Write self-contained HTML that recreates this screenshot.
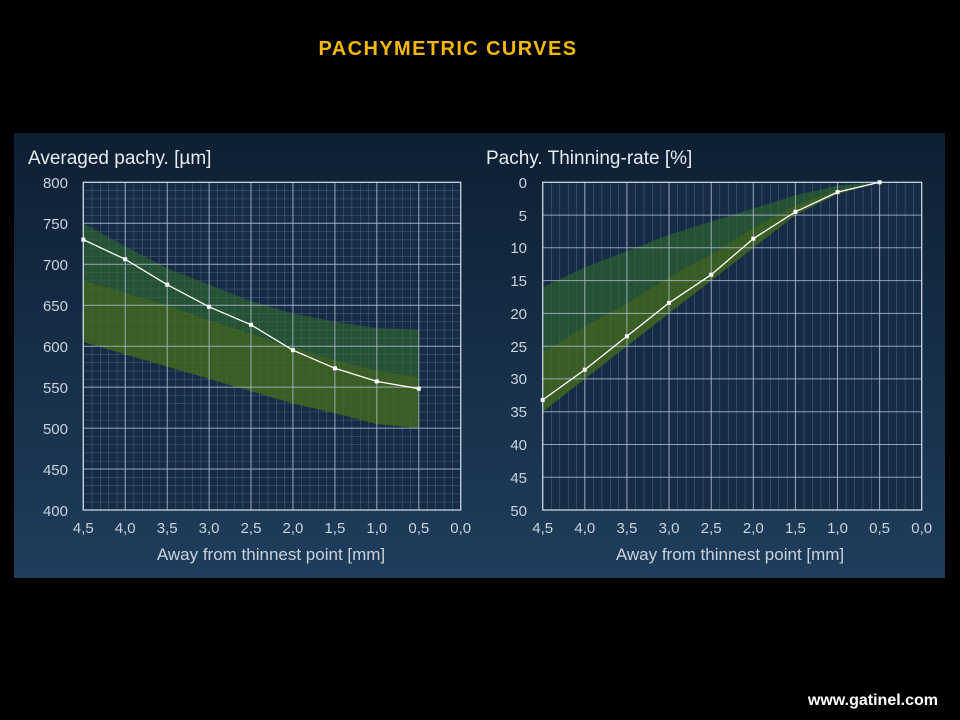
<!DOCTYPE html>
<html><head><meta charset="utf-8"><style>
html,body{margin:0;padding:0;background:#000;width:960px;height:720px;overflow:hidden}
</style></head><body>
<svg width="960" height="720" viewBox="0 0 960 720" xmlns="http://www.w3.org/2000/svg" font-family="Liberation Sans, sans-serif">
<defs>
<linearGradient id="bg" x1="0" y1="0" x2="0" y2="1">
<stop offset="0" stop-color="#0e1f33"/><stop offset="1" stop-color="#1f3d5c"/>
</linearGradient>
<pattern id="gl" x="83.3" y="182.3" width="8.386" height="8.193" patternUnits="userSpaceOnUse">
<path d="M0 0V8.193M0 0H8.386" stroke="#5d7593" stroke-width="0.8" fill="none"/>
</pattern>
<pattern id="gr" x="542.7" y="182.3" width="8.422" height="400" patternUnits="userSpaceOnUse">
<path d="M0 0V400" stroke="#5d7593" stroke-width="0.8" fill="none"/>
</pattern>
</defs>
<rect width="960" height="720" fill="#000"/>
<text x="448" y="55" text-anchor="middle" font-size="20" letter-spacing="1.4" font-weight="bold" fill="#f5b800">PACHYMETRIC CURVES</text>
<rect x="14" y="133" width="931" height="445" fill="url(#bg)"/>

<!-- LEFT -->
<text x="28" y="164" font-size="19" fill="#e6ebf0">Averaged pachy. [µm]</text>
<rect x="83.3" y="182.3" width="377.4" height="327.7" fill="#172b47"/>
<rect x="83.3" y="182.3" width="377.4" height="327.7" fill="url(#gl)"/>
<path d="M83.3 223.2L125.2 246.2L167.2 268.3L209.1 284.7L251 301.1L292.9 313.4L334.9 321.6L376.8 328.1L418.8 329.8L418.8 428.1L376.8 424L334.9 413.3L292.9 403.5L251 391.2L209.1 378.9L167.2 366.6L125.2 354.3L83.3 342Z" fill="#2f6a2a" fill-opacity="0.6"/>
<path d="M83.3 280.6L125.2 292.9L167.2 305.2L209.1 319.9L251 333.9L292.9 347.8L334.9 360.1L376.8 370.7L418.8 377.3L418.8 428.1L376.8 424L334.9 413.3L292.9 403.5L251 391.2L209.1 378.9L167.2 366.6L125.2 354.3L83.3 342Z" fill="#4d6a14" fill-opacity="0.5"/>
<g stroke="#a9b7c8" stroke-width="1" stroke-opacity="0.85">
<path d="M83.3 182.3V510M125.2 182.3V510M167.2 182.3V510M209.1 182.3V510M251 182.3V510M292.9 182.3V510M334.9 182.3V510M376.8 182.3V510M418.8 182.3V510"/>
<path d="M83.3 223.3H460.7M83.3 264.2H460.7M83.3 305.2H460.7M83.3 346.2H460.7M83.3 387.1H460.7M83.3 428.1H460.7M83.3 469H460.7"/>
</g>
<rect x="83.3" y="182.3" width="377.4" height="327.7" fill="none" stroke="#c9d3de" stroke-width="1.3"/>
<polyline points="83.3,239.6 125.2,259.3 167.2,284.7 209.1,306.8 251,324.8 292.9,350.2 334.9,368.3 376.8,381.4 418.8,388.7" fill="none" stroke="#fff" stroke-width="1.3"/>
<g fill="#fff"><rect x="81.3" y="237.6" width="4" height="4"/><rect x="123.2" y="257.3" width="4" height="4"/><rect x="165.2" y="282.7" width="4" height="4"/><rect x="207.1" y="304.8" width="4" height="4"/><rect x="249" y="322.8" width="4" height="4"/><rect x="290.9" y="348.2" width="4" height="4"/><rect x="332.9" y="366.3" width="4" height="4"/><rect x="374.8" y="379.4" width="4" height="4"/><rect x="416.8" y="386.7" width="4" height="4"/></g>
<g font-size="15" fill="#c9d3de" text-anchor="end">
<text x="68" y="188">800</text><text x="68" y="229">750</text><text x="68" y="270">700</text><text x="68" y="311">650</text><text x="68" y="352">600</text><text x="68" y="393">550</text><text x="68" y="434">500</text><text x="68" y="475">450</text><text x="68" y="516">400</text>
</g>
<g font-size="15" fill="#c9d3de" text-anchor="middle">
<text x="83.3" y="533">4,5</text><text x="125.2" y="533">4,0</text><text x="167.2" y="533">3,5</text><text x="209.1" y="533">3,0</text><text x="251" y="533">2,5</text><text x="292.9" y="533">2,0</text><text x="334.9" y="533">1,5</text><text x="376.8" y="533">1,0</text><text x="418.8" y="533">0,5</text><text x="460.7" y="533">0,0</text>
<text x="271" y="560" font-size="17">Away from thinnest point [mm]</text>
</g>

<!-- RIGHT -->
<text x="486" y="164" font-size="19" fill="#e6ebf0">Pachy. Thinning-rate [%]</text>
<rect x="542.7" y="182.3" width="379" height="327.7" fill="#172b47"/>
<rect x="542.7" y="182.3" width="379" height="327.7" fill="url(#gr)"/>
<path d="M542.7 287.2L584.8 267.5L626.9 251.1L669 234.7L711.2 221.6L753.3 208.5L795.4 195.4L837.5 185.6L879.6 182.3L837.5 194.1L795.4 215.1L753.3 247.8L711.2 280.6L669 313.4L626.9 346.2L584.8 378.9L542.7 411.7Z" fill="#2f6a2a" fill-opacity="0.6"/>
<path d="M542.7 352.7L584.8 326.5L626.9 303.6L669 277.3L711.2 254.4L753.3 228.2L795.4 205.2L837.5 190.2L879.6 182.3L837.5 194.1L795.4 215.1L753.3 247.8L711.2 280.6L669 313.4L626.9 346.2L584.8 378.9L542.7 411.7Z" fill="#4d6a14" fill-opacity="0.5"/>
<g stroke="#a9b7c8" stroke-width="1" stroke-opacity="0.85">
<path d="M584.8 182.3V510M626.9 182.3V510M669 182.3V510M711.2 182.3V510M753.3 182.3V510M795.4 182.3V510M837.5 182.3V510M879.6 182.3V510"/>
<path d="M542.7 215.1H921.7M542.7 247.8H921.7M542.7 280.6H921.7M542.7 313.4H921.7M542.7 346.2H921.7M542.7 378.9H921.7M542.7 411.7H921.7M542.7 444.5H921.7M542.7 477.2H921.7"/>
</g>
<rect x="542.7" y="182.3" width="379" height="327.7" fill="none" stroke="#c9d3de" stroke-width="1.3"/>
<polyline points="542.7,399.9 584.8,369.7 626.9,336.3 669,302.9 711.2,274.7 753.3,238.7 795.4,211.8 837.5,192.1 879.6,182.3" fill="none" stroke="#fff" stroke-width="1.3"/>
<g fill="#fff"><rect x="540.7" y="397.9" width="4" height="4"/><rect x="582.8" y="367.7" width="4" height="4"/><rect x="624.9" y="334.3" width="4" height="4"/><rect x="667" y="300.9" width="4" height="4"/><rect x="709.2" y="272.7" width="4" height="4"/><rect x="751.3" y="236.7" width="4" height="4"/><rect x="793.4" y="209.8" width="4" height="4"/><rect x="835.5" y="190.1" width="4" height="4"/><rect x="877.6" y="180.3" width="4" height="4"/></g>
<g font-size="15" fill="#c9d3de" text-anchor="end">
<text x="527" y="188">0</text><text x="527" y="221">5</text><text x="527" y="253">10</text><text x="527" y="286">15</text><text x="527" y="319">20</text><text x="527" y="352">25</text><text x="527" y="384">30</text><text x="527" y="417">35</text><text x="527" y="450">40</text><text x="527" y="483">45</text><text x="527" y="516">50</text>
</g>
<g font-size="15" fill="#c9d3de" text-anchor="middle">
<text x="542.7" y="533">4,5</text><text x="584.8" y="533">4,0</text><text x="626.9" y="533">3,5</text><text x="669" y="533">3,0</text><text x="711.2" y="533">2,5</text><text x="753.3" y="533">2,0</text><text x="795.4" y="533">1,5</text><text x="837.5" y="533">1,0</text><text x="879.6" y="533">0,5</text><text x="921.7" y="533">0,0</text>
<text x="730" y="560" font-size="17">Away from thinnest point [mm]</text>
</g>

<text x="938" y="705" text-anchor="end" font-size="16" font-weight="bold" fill="#fff">www.gatinel.com</text>
</svg>
</body></html>
